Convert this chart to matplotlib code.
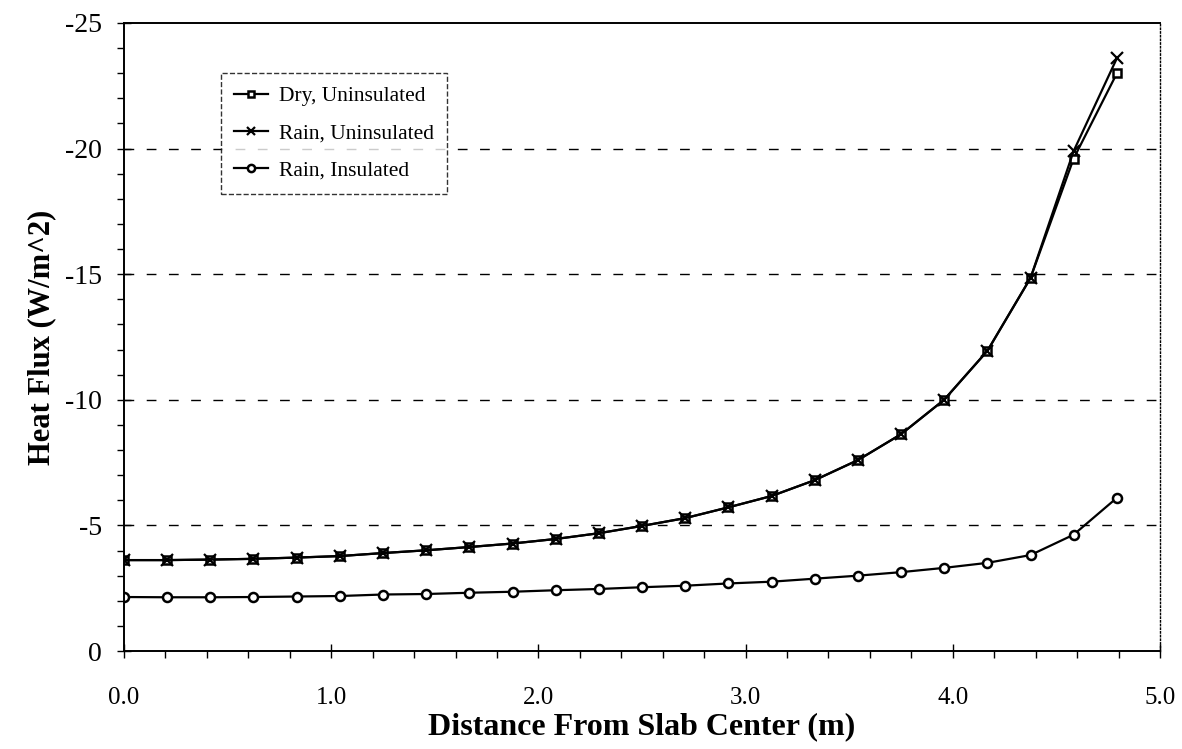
import matplotlib
matplotlib.use('Agg')
import matplotlib.pyplot as plt
from matplotlib.ticker import MultipleLocator, FormatStrFormatter

# distance from slab center (m)
dist = [0.0, 0.208, 0.417, 0.625, 0.833, 1.042, 1.25, 1.458, 1.667, 1.875,
        2.083, 2.292, 2.5, 2.708, 2.917, 3.125, 3.333, 3.542, 3.75, 3.958,
        4.167, 4.375, 4.583, 4.792]

dry_unins = [-3.62, -3.62, -3.64, -3.67, -3.72, -3.78, -3.90, -4.01, -4.14, -4.28,
             -4.46, -4.69, -4.98, -5.29, -5.72, -6.17, -6.80, -7.60, -8.63, -10.0,
             -11.95, -14.85, -19.6, -23.0]
rain_unins = [-3.62, -3.62, -3.64, -3.67, -3.72, -3.78, -3.90, -4.01, -4.14, -4.28,
              -4.46, -4.69, -4.98, -5.29, -5.72, -6.17, -6.80, -7.60, -8.63, -10.0,
              -11.95, -14.85, -19.9, -23.6]
rain_ins = [-2.15, -2.14, -2.14, -2.15, -2.17, -2.19, -2.25, -2.27, -2.32, -2.36,
            -2.42, -2.47, -2.54, -2.60, -2.69, -2.76, -2.88, -3.00, -3.14, -3.31,
            -3.51, -3.82, -4.63, -6.10]

plt.rcParams['font.family'] = ['Liberation Serif', 'DejaVu Serif']
plt.rcParams['axes.unicode_minus'] = False

fig = plt.figure(figsize=(11.82, 7.49), dpi=100)
ax = fig.add_axes([0.1049, 0.1308, 0.8765, 0.8385])

ax.plot(dist, dry_unins, color='black', lw=1.6, marker='s', ms=6,
        mfc='white', mec='black', mew=1.8, label='Dry, Uninsulated')
ax.plot(dist, rain_unins, color='black', lw=1.6, marker='x', ms=8,
        mew=1.6, label='Rain, Uninsulated')
ax.plot(dist, rain_ins, color='black', lw=1.6, marker='o', ms=6.5,
        mfc='white', mec='black', mew=1.8, label='Rain, Insulated')

ax.set_xlim(0, 5)
ax.set_ylim(0, -25)

for yv in [-5, -10, -15, -20]:
    ax.axhline(yv, color='black', lw=1.0, ls=(0, (7, 9)), zorder=0)

ax.xaxis.set_major_locator(MultipleLocator(1.0))
ax.xaxis.set_minor_locator(MultipleLocator(0.2))
ax.xaxis.set_major_formatter(FormatStrFormatter('%.1f'))
ax.yaxis.set_major_locator(MultipleLocator(5))
ax.yaxis.set_minor_locator(MultipleLocator(1))
ax.tick_params(axis='both', which='major', direction='inout', length=10,
               width=1.0, labelsize=18)
ax.tick_params(axis='both', which='minor', direction='out', length=5, width=1.0)
ax.tick_params(axis='x', which='major', pad=21)
ax.tick_params(axis='y', which='major', pad=11, labelsize=20)

ax.spines['left'].set_linewidth(1.4)
ax.spines['bottom'].set_linewidth(1.4)
ax.spines['top'].set_linewidth(1.4)
ax.spines['right'].set_linewidth(1.0)
ax.spines['right'].set_linestyle(':')

ax.set_xlabel('Distance From Slab Center (m)', fontsize=23, fontweight='bold',
              labelpad=2)
ax.set_ylabel('Heat Flux (W/m^2)', fontsize=22, fontweight='bold', labelpad=6)

leg = ax.legend(loc='upper left', bbox_to_anchor=(0.0936, 0.92), borderaxespad=0,
                fontsize=15.5, frameon=True, fancybox=False, edgecolor='black',
                handlelength=1.6, handletextpad=0.5, labelspacing=0.8,
                borderpad=0.6, markerscale=0.8)
leg.get_frame().set_linewidth(1.0)
leg.get_frame().set_linestyle('--')

fig.savefig('out.png', dpi=100)
